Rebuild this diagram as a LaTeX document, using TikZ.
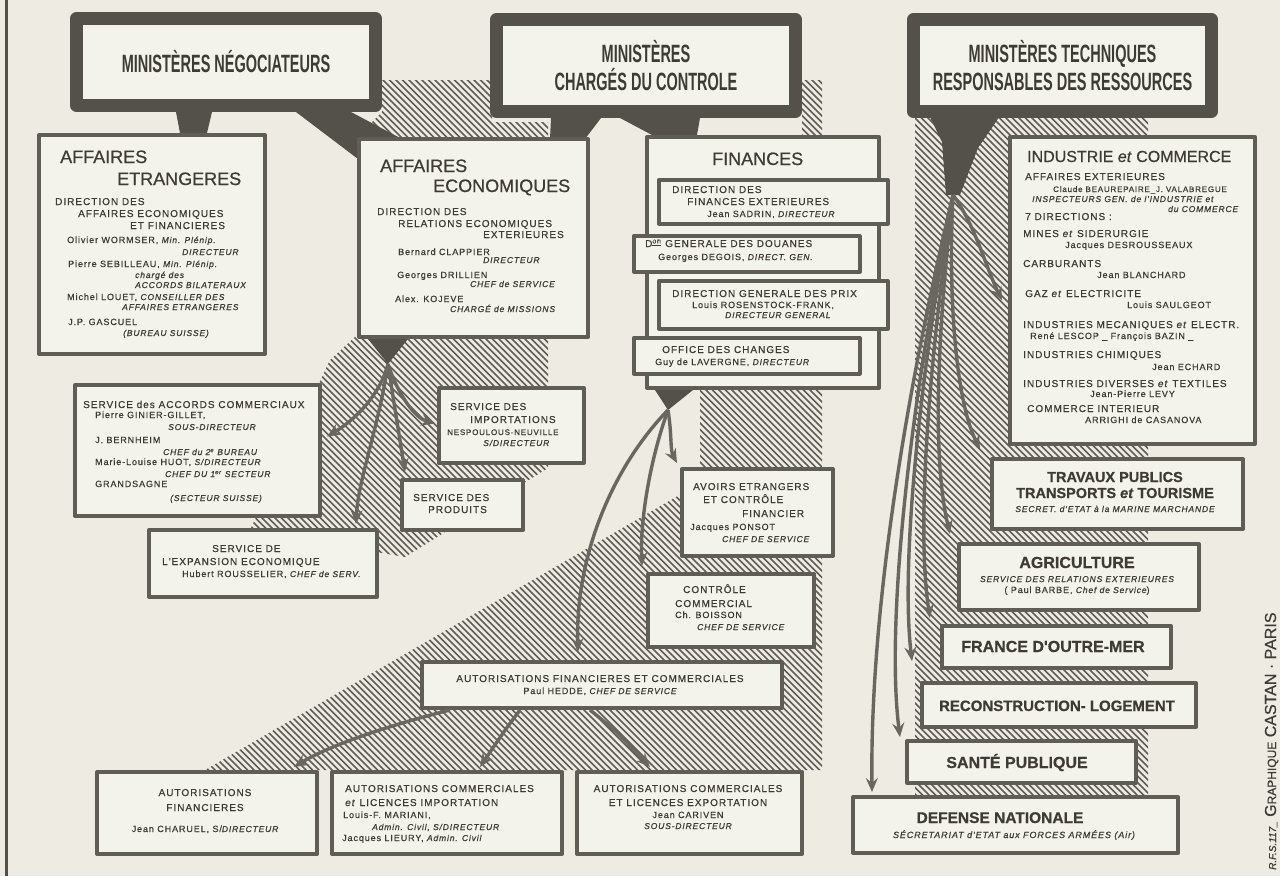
\documentclass[tikz,border=0pt]{standalone}
\usepackage{fontspec}
\setmainfont{Liberation Sans}
\newfontfamily\lettering{Liberation Sans}[LetterSpace=10, FakeBold=0.6]
\newfontfamily\titlefont{Liberation Sans}[FakeBold=0.6]
\newfontfamily\headfont{Liberation Sans}[FakeStretch=0.58]
\usetikzlibrary{arrows.meta,positioning}

\definecolor{paper}{RGB}{238,236,226}
\definecolor{boxfill}{RGB}{243,242,235}
\definecolor{ink}{RGB}{62,58,53}
\definecolor{frame}{RGB}{96,92,86}
\definecolor{headframe}{RGB}{84,80,74}
\definecolor{hatchgray}{RGB}{96,92,87}
\definecolor{arrowgray}{RGB}{106,102,96}

\newcommand\boxtitle{\titlefont\fontsize{18}{21}\selectfont}
\newcommand\bigbold{\titlefont\bfseries\fontsize{16}{19}\selectfont}
\newcommand\tpfont{\titlefont\bfseries\fontsize{14.5}{17}\selectfont}
\newcommand\smallit{\lettering\itshape\fontsize{8.5}{10}\selectfont}
\newcommand\namefont{\lettering\fontsize{9}{11}\selectfont}

\pgfdeclarelayer{back}
\pgfsetlayers{back,main}

\tikzset{
  box/.style={draw=frame, line width=4pt, fill=boxfill, anchor=north west, inner sep=0pt},
  subbox/.style={box, line width=3.5pt},
  headbox/.style={draw=headframe, line width=13pt, fill=boxfill, inner sep=0pt, align=center, text=ink,
    font=\headfont\bfseries\fontsize{25}{28}\selectfont},
  txt/.style={text=ink, inner sep=0pt, anchor=base west, font=\lettering\fontsize{10}{12}\selectfont},
  ctxt/.style={txt, anchor=base},
  stem/.style={fill=headframe},
  hatch/.style={draw=hatchgray, line width=1.7pt},
  arr/.style={draw=arrowgray, line width=3.4pt, -{Stealth[length=14pt,width=12pt,inset=5pt]}},
}

\begin{document}
\begin{tikzpicture}[x=1pt, y=-1pt, line join=round]
\begin{pgfonlayer}{back}
  \fill[paper] (0,0) rectangle (1280,876);
  % hatched shadows
  \begin{scope}
    \clip (382,80) -- (492,80) -- (492,122) -- (548,122) -- (548,468) -- (405,557) -- (250,530)
      -- (330,360) -- (357,335) -- (357,137) -- (382,112) -- cycle
      (802,80) -- (822,80) -- (822,770) -- (205,770) -- (688,490) -- (700,470) -- (700,386) -- (802,386) -- cycle
      (915,118) rectangle (1148,797);
    \foreach \k in {-620,-613.5,...,1080} \draw[hatch] (\k,0) -- ++(900,900);
  \end{scope}
\end{pgfonlayer}
\useasboundingbox (0,0) rectangle (1280,876);
\draw[line width=3pt, headframe] (6,0) -- (6,876);

% ministries
\node[headbox, minimum width=299pt, minimum height=87pt] (hn) at (226,62) {MINISTÈRES NÉGOCIATEURS};
\node[headbox, minimum width=299pt, minimum height=92pt] (hc) at (646,65.5) {MINISTÈRES\\CHARGÉS DU CONTROLE};
\node[headbox, minimum width=298pt, minimum height=92pt] (ht) at (1062.5,65.5) {MINISTÈRES TECHNIQUES\\RESPONSABLES DES RESSOURCES};

% boxes
\node[box, minimum width=226pt, minimum height=219pt] (ae) at (37,133) {};
\node[box, minimum width=229pt, minimum height=198pt] (aec) at (357,137) {};
\node[box, minimum width=232pt, minimum height=251pt] (fin) at (645,135) {};
\node[subbox, minimum width=229pt, minimum height=44pt] (dfe) at (657,178) {};
\node[subbox, minimum width=226pt, minimum height=36pt] (dgd) at (632,234) {};
\node[subbox, minimum width=229pt, minimum height=48pt] (dgp) at (657,279) {};
\node[subbox, minimum width=226pt, minimum height=36pt] (odc) at (632,336) {};
\node[box, minimum width=245pt, minimum height=307pt] (ic) at (1008,135) {};
\node[box, minimum width=245pt, minimum height=131pt] (sac) at (73,383) {};
\node[box, minimum width=145pt, minimum height=75pt] (sim) at (437,386) {};
\node[box, minimum width=121pt, minimum height=50pt] (spr) at (400,478) {};
\node[box, minimum width=228pt, minimum height=67pt] (see) at (147,528) {};
\node[box, minimum width=151pt, minimum height=87pt] (avo) at (680,467) {};
\node[box, minimum width=166pt, minimum height=73pt] (cco) at (646,572) {};
\node[box, minimum width=360pt, minimum height=46pt] (afc) at (420,660) {};
\node[box, minimum width=220pt, minimum height=82pt] (af) at (95,770) {};
\node[box, minimum width=230pt, minimum height=82pt] (aci) at (330,770) {};
\node[box, minimum width=225pt, minimum height=82pt] (ace) at (575,770) {};
\node[box, minimum width=251pt, minimum height=70pt] (tp) at (990,457) {};
\node[box, minimum width=240pt, minimum height=66pt] (agr) at (957,542) {};
\node[box, minimum width=229pt, minimum height=42pt] (fom) at (940,624) {};
\node[box, minimum width=274pt, minimum height=44pt] (rec) at (920,681) {};
\node[box, minimum width=229pt, minimum height=42pt] (san) at (905,739) {};
\node[box, minimum width=325pt, minimum height=56pt] (def) at (851,795) {};

% stems under the boxes
\coordinate (ej) at (388,364);
\coordinate (fj) at (668,410);
\coordinate (rt) at (953,195);
\begin{pgfonlayer}{back}
  \fill[stem] ([xshift=-50pt]hn.south) -- ([xshift=-14pt]hn.south) -- ([xshift=55pt]ae.north) -- ([xshift=28pt]ae.north) -- cycle;
  \fill[stem] ([xshift=70pt]hn.south) -- ([xshift=125pt]hn.south) -- ([shift={(45,2)}]aec.north west) -- ([shift={(5,25)}]aec.north west) -- cycle;
  \fill[stem] ([xshift=-95pt]hc.south) -- ([xshift=-45pt]hc.south) -- ([shift={(-5,2)}]aec.north east) -- ([shift={(-40,2)}]aec.north east) -- cycle;
  \fill[stem] ([xshift=-26pt]hc.south) -- ([xshift=54pt]hc.south) -- ([xshift=-66pt]fin.north) -- ([xshift=-111pt]fin.north) -- cycle;
  \fill[stem] ([xshift=-132pt]ht.south) -- ([xshift=-64pt]ht.south) -- (978,148) -- ([xshift=7pt]rt) -- ([xshift=-7pt]rt) -- (942,142) -- cycle;
  \fill[stem] ([xshift=11pt]aec.south west) -- ([xshift=51pt]aec.south west) -- (ej) -- cycle;
  \fill[stem] ([xshift=10pt]fin.south west) -- ([xshift=48pt]fin.south west) -- (fj) -- cycle;
\end{pgfonlayer}

% arrows
\draw[arr] (ej) .. controls (380,395) and (355,420) .. ([shift={(5,-14)}]sac.east);
\draw[arr] (ej) .. controls (378,430) and (358,480) .. ([shift={(-23,-4)}]see.north east);
\draw[arr] (ej) .. controls (395,410) and (400,440) .. ([shift={(5,-6)}]spr.north west);
\draw[arr] (ej) .. controls (398,395) and (415,418) .. ([shift={(-2,-2)}]sim.west);
\draw[arr] (fj) .. controls (672,435) and (670,450) .. ([shift={(-3,-4)}]avo.north west);
\draw[arr] (fj) .. controls (650,460) and (640,520) .. ([shift={(-4,-6)}]cco.north west);
\draw[arr] (fj) .. controls (610,470) and (575,560) .. ([shift={(158,-8)}]afc.north west);
\draw[arr] ([xshift=30pt]afc.south west) .. controls (390,725) and (330,745) .. ([shift={(-25,-3)}]af.north east);
\draw[arr] ([xshift=100pt]afc.south west) .. controls (505,730) .. ([shift={(150,-3)}]aci.north west);
\draw[arr] ([xshift=170pt]afc.south west) .. controls (615,730) .. ([shift={(75,-3)}]ace.north west);
\draw[arr] (rt) .. controls (975,225) and (985,265) .. ([shift={(-6,10)}]ic.west);
\draw[arr] (rt) .. controls (948,290) and (955,400) .. ([shift={(-10,-8)}]tp.north west);
\draw[arr] (rt) .. controls (940,310) and (930,450) .. ([shift={(-7,-8)}]agr.north west);
\draw[arr] (rt) .. controls (932,340) and (915,520) .. ([shift={(-10,-6)}]fom.north west);
\draw[arr] (rt) .. controls (922,360) and (900,560) .. ([shift={(-8,-20)}]rec.north west);
\draw[arr] (rt) .. controls (912,390) and (885,620) .. ([shift={(-5,-2)}]san.north west);
\draw[arr] (rt) .. controls (902,410) and (870,620) .. ([shift={(21,-3)}]def.north west);

% texts
\foreach \x/\y/\t [count=\i] in {60/163/{\boxtitle AFFAIRES}, 117/185/{\boxtitle ETRANGERES},
  55/205/{DIRECTION DES}, 78/217/{AFFAIRES ECONOMIQUES}, 130/229/{ET FINANCIERES},
  67/243/{\namefont Olivier WORMSER, \smallit Min. Plénip.}, 182/255/{\smallit DIRECTEUR},
  68/267/{\namefont Pierre SEBILLEAU, \smallit Min. Plénip.}, 135/278/{\smallit chargé des},
  135/288/{\smallit ACCORDS BILATERAUX}, 67/300/{\namefont Michel LOUET, \smallit CONSEILLER DES},
  122/310/{\smallit AFFAIRES ETRANGERES}, 68/325/{\namefont J.P. GASCUEL}, 123/336/{\smallit (BUREAU SUISSE)}}
  \node[txt] (ae-\i) at (\x,\y) {\t};
\foreach \x/\y/\t [count=\i] in {380/172/{\boxtitle AFFAIRES}, 433/192/{\boxtitle ECONOMIQUES},
  377/215/{DIRECTION DES}, 398/227/{RELATIONS ECONOMIQUES}, 483/238/{EXTERIEURES},
  398/255/{\namefont Bernard CLAPPIER}, 483/263/{\smallit DIRECTEUR},
  397/278/{\namefont Georges DRILLIEN}, 470/287/{\smallit CHEF de SERVICE},
  395/302/{\namefont Alex. KOJEVE}, 450/312/{\smallit CHARGÉ de MISSIONS}}
  \node[txt] (aec-\i) at (\x,\y) {\t};
\foreach \x/\y/\t [count=\i] in {712/165/{\boxtitle FINANCES},
  672/193/{DIRECTION DES}, 687/205/{FINANCES EXTERIEURES}, 707/217/{\namefont Jean SADRIN, \smallit DIRECTEUR},
  645/247/{D\textsuperscript{\underline{on}} GENERALE DES DOUANES}, 658/260/{\namefont Georges DEGOIS, \smallit DIRECT. GEN.},
  672/297/{DIRECTION GENERALE DES PRIX}, 692/308/{\namefont Louis ROSENSTOCK-FRANK,}, 725/318/{\smallit DIRECTEUR GENERAL},
  662/353/{OFFICE DES CHANGES}, 655/365/{\namefont Guy de LAVERGNE, \smallit DIRECTEUR}}
  \node[txt] (fin-\i) at (\x,\y) {\t};
\foreach \x/\y/\t [count=\i] in {1027/162/{\titlefont\fontsize{16}{18}\selectfont INDUSTRIE \textit{et} COMMERCE},
  1025/180/{AFFAIRES EXTERIEURES}, 1053/192/{\namefont\fontsize{8}{10}\selectfont Claude BEAUREPAIRE\_J. VALABREGUE},
  1032/202/{\smallit INSPECTEURS GEN. de l'INDUSTRIE et}, 1168/212/{\smallit du COMMERCE},
  1025/220/{7 DIRECTIONS :}, 1023/237/{MINES \textit{et} SIDERURGIE}, 1065/248/{\namefont Jacques DESROUSSEAUX},
  1023/267/{CARBURANTS}, 1097/278/{\namefont Jean BLANCHARD},
  1025/297/{GAZ \textit{et} ELECTRICITE}, 1127/308/{\namefont Louis SAULGEOT},
  1023/328/{INDUSTRIES MECANIQUES \textit{et} ELECTR.}, 1030/339/{\namefont René LESCOP \_ François BAZIN \_},
  1023/358/{INDUSTRIES CHIMIQUES}, 1152/370/{\namefont Jean ECHARD},
  1023/387/{INDUSTRIES DIVERSES \textit{et} TEXTILES}, 1090/397/{\namefont Jean-Pierre LEVY},
  1027/412/{COMMERCE INTERIEUR}, 1085/423/{\namefont ARRIGHI de CASANOVA}}
  \node[txt] (ic-\i) at (\x,\y) {\t};
\foreach \x/\y/\t [count=\i] in {83/408/{SERVICE des ACCORDS COMMERCIAUX}, 95/418/{\namefont Pierre GINIER-GILLET,},
  168/430/{\smallit SOUS-DIRECTEUR}, 95/443/{\namefont J. BERNHEIM}, 163/455/{\smallit CHEF du 2\textsuperscript{e} BUREAU},
  95/465/{\namefont Marie-Louise HUOT, \smallit S/DIRECTEUR}, 165/477/{\smallit CHEF DU 1\textsuperscript{er} SECTEUR},
  95/487/{\namefont GRANDSAGNE}, 170/501/{\smallit (SECTEUR SUISSE)},
  450/410/{SERVICE DES}, 470/423/{IMPORTATIONS}, 447/435/{\namefont\fontsize{8}{10}\selectfont NESPOULOUS-NEUVILLE},
  483/446/{\smallit S/DIRECTEUR}, 413/501/{SERVICE DES}, 428/513/{PRODUITS},
  212/552/{SERVICE DE}, 162/565/{L'EXPANSION ECONOMIQUE}, 182/577/{\namefont Hubert ROUSSELIER, \smallit CHEF de SERV.}}
  \node[txt] (srv-\i) at (\x,\y) {\t};
\foreach \x/\y/\t [count=\i] in {693/490/{AVOIRS ETRANGERS}, 703/503/{ET CONTRÔLE}, 742/517/{FINANCIER},
  690/530/{\namefont Jacques PONSOT}, 722/542/{\smallit CHEF DE SERVICE},
  683/593/{CONTRÔLE}, 675/607/{COMMERCIAL}, 675/618/{\namefont Ch. BOISSON}, 697/630/{\smallit CHEF DE SERVICE},
  345/792/{AUTORISATIONS COMMERCIALES}, 345/806/{\textit{et} LICENCES IMPORTATION}, 343/818/{\namefont Louis-F. MARIANI,},
  372/830/{\smallit Admin. Civil, S/DIRECTEUR}, 342/841/{\namefont Jacques LIEURY, \smallit Admin. Civil}}
  \node[txt] (ctl-\i) at (\x,\y) {\t};
\foreach \x/\y/\t [count=\i] in {600/682/{AUTORISATIONS FINANCIERES ET COMMERCIALES}, 600/694/{\namefont Paul HEDDE, \smallit CHEF DE SERVICE},
  205/796/{AUTORISATIONS}, 205/811/{FINANCIERES}, 205/832/{\namefont Jean CHARUEL, S/{\smallit DIRECTEUR}},
  688/792/{AUTORISATIONS COMMERCIALES}, 688/806/{ET LICENCES EXPORTATION}, 688/818/{\namefont Jean CARIVEN}, 688/829/{\smallit SOUS-DIRECTEUR},
  1115/482/{\tpfont TRAVAUX PUBLICS}, 1115/498/{\tpfont TRANSPORTS \textit{et} TOURISME},
  1115/512/{\smallit SECRET. d'ETAT à la MARINE MARCHANDE},
  1077/568/{\bigbold AGRICULTURE}, 1077/582/{\smallit SERVICE DES RELATIONS EXTERIEURES},
  1077/593/{\namefont ( Paul BARBE, {\smallit Chef de Service})},
  1053/652/{\bigbold FRANCE D'OUTRE-MER}, 1057/711/{\bigbold\fontsize{15}{17}\selectfont RECONSTRUCTION- LOGEMENT},
  1017/768/{\bigbold SANTÉ PUBLIQUE}, 1000/823/{\bigbold\fontsize{15.5}{18}\selectfont DEFENSE NATIONALE},
  1014/838/{\smallit\fontsize{9}{10}\selectfont SÉCRETARIAT d'ETAT aux FORCES ARMÉES (Air)}}
  \node[ctxt] (aut-\i) at (\x,\y) {\t};

\node[rotate=90, anchor=base west, inner sep=0pt, text=ink, font=\titlefont\fontsize{16}{18}\selectfont] (castan) at (1276,870)
  {{\itshape\fontsize{10}{12}\selectfont R.F.S.117\_} G{\fontsize{12}{14}\selectfont RAPHIQUE} CASTAN · PARIS};
\end{tikzpicture}
\end{document}
